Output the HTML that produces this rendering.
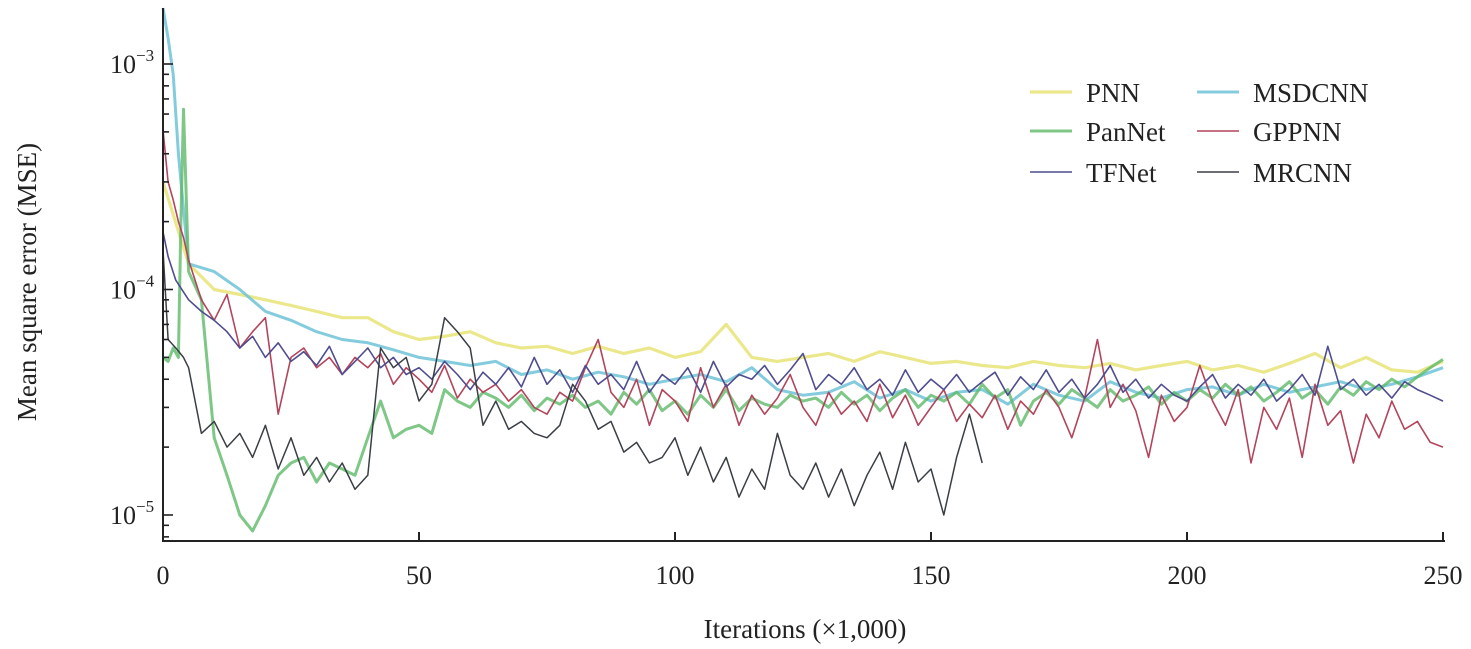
<!DOCTYPE html>
<html><head><meta charset="utf-8"><style>
html,body{margin:0;padding:0;background:#fff;}
svg{display:block;font-family:"Liberation Serif",serif;}
</style></head><body>
<svg id="chart" width="1471" height="649" viewBox="0 0 1471 649" xmlns="http://www.w3.org/2000/svg">
<g id="series"></g>
<g id="axes"></g>
<g id="legend"></g>
<text x="0" y="0" transform="translate(36,282) rotate(-90)" text-anchor="middle" font-size="27" fill="#222">Mean square error (MSE)</text>
<text x="805" y="638" text-anchor="middle" font-size="27" fill="#222">Iterations (×1,000)</text>
</svg>
<script>
// values are MSE in units of 1e-5
const xTicks = [0, 50, 100, 150, 200, 250];
const yDecades = [-5, -4, -3];
const seriesNames = ["PNN", "PanNet", "TFNet", "MSDCNN", "GPPNN", "MRCNN"];
const grid = Array.from({length:101},(_,i)=>i*2.5);
const grid5 = Array.from({length:51},(_,i)=>i*5);

const pnnX = grid5;
const pnnY = [30,13,10,9.5,9,8.5,8,7.5,7.5,6.5,6,6.2,6.5,5.8,5.5,5.6,5.2,5.6,5.2,5.5,5,5.3,7,5,4.8,5,5.2,4.8,5.3,5,4.7,4.8,4.6,4.5,4.8,4.6,4.5,4.7,4.4,4.6,4.8,4.4,4.6,4.3,4.7,5.2,4.5,5,4.4,4.3,4.8];

const msdX = [0,1,2,3,5].concat(grid5.slice(2));
const msdY = [180,130,90,40,13,12,10,8,7.3,6.5,6,5.8,5.4,5,4.8,4.6,4.8,4.2,4.4,4,4.3,4.1,3.8,4,4.2,3.9,4.5,3.6,3.4,3.5,3.9,3.3,3.6,3.2,3.5,3.6,3.1,3.8,3.4,3.2,3.9,3.5,3.3,3.6,3.7,3.4,3.8,3.5,3.7,3.9,3.6,3.8,4.1,4.5];

const panX = [0,1,2,3,3.5,4,5].concat(grid.slice(3));
const panY = [5,4.8,5.5,5,20,63,12,9,2.2,1.5,1.0,0.85,1.1,1.5,1.7,1.8,1.4,1.7,1.6,1.5,2.2,3.2,2.2,2.4,2.5,2.3,3.6,3.2,3,3.5,3.3,3,3.4,2.9,3.3,3.1,3.4,3,3.2,2.8,3.5,3.1,3.6,2.9,3.2,2.8,3.4,3,3.6,2.9,3.3,3.1,3,3.4,3.2,3.3,3,3.5,3.1,3.4,2.9,3.3,3.6,3,3.4,3.2,3.5,3.1,3.8,3.3,3.6,2.5,3.2,3.5,3.1,3.6,3.3,3,3.6,3.2,3.4,3.7,3.1,3.5,3.2,3.6,3.3,3.8,3.4,3.7,3.2,3.5,3.9,3.3,3.6,3.1,3.7,3.4,3.9,3.6,4,3.7,4.1,4.5,4.9];

const tfX = [0,1,2.5,5].concat(grid.slice(3));
const tfY = [18,14,11,9,8,7.3,6.5,5.5,6.2,5,5.8,4.8,5.3,4.6,5.6,4.2,4.8,5.5,4.5,5,4.2,4.5,4,4.8,4.2,3.6,4.3,3.8,4.5,3.7,5,3.8,4.4,3.5,4.6,3.8,4.2,3.6,4.8,3.5,4.2,3.8,4.5,3.5,4.8,3.7,4.2,4,4.6,3.8,4.4,5.2,3.6,4.2,3.8,4.5,3.6,4,3.4,4.4,3.5,4,3.6,4.2,3.5,3.9,4.3,3.4,4.1,3.6,4.4,3.5,4,3.3,3.8,4.6,3.5,4,3.3,3.8,3.4,3.2,3.7,4.2,3.3,3.8,3.4,4,3.2,3.6,4.2,3.4,5.6,3.6,4,3.4,3.8,3.3,3.9,3.6,3.4,3.2];

const gpX = [0,1,2,3,4,5].concat(grid.slice(3));
const gpY = [51,30,25,20,17,13.5,9,7.3,9.5,5.5,6.5,7.5,2.8,5,5.5,4.5,5,4.2,5,4.5,5.2,3.8,4.5,4,3.5,4.6,3.3,4,3.5,3.8,3.2,3.6,3,2.8,3.5,3.2,4.5,6,3.5,3,4,2.5,3.6,3.2,2.6,4.5,3,3.8,2.5,3.4,2.8,3.3,4.2,3,2.5,3.5,2.8,3.2,2.6,3.8,2.7,3.4,2.5,3,3.6,2.6,3.1,2.7,3.4,2.4,3.2,2.8,3.6,3,2.2,3.3,6,3,3.8,2.9,1.8,3.4,2.6,3,4.6,3.2,2.5,3.6,1.7,3,2.4,3.3,1.8,3.8,2.5,2.9,1.7,2.8,2.2,3.2,2.4,2.6,2.1,2];

const mrX = [0,1,2.5,4,5].concat(grid.slice(3,65));
const mrY = [15,6,5.5,5,4.5,2.3,2.6,2,2.3,1.8,2.5,1.6,2.2,1.5,1.8,1.4,1.7,1.3,1.5,5.5,4.5,5,3.2,3.8,7.5,6.5,5.5,2.5,3.2,2.4,2.6,2.3,2.2,2.5,3.8,3.2,2.4,2.6,1.9,2.1,1.7,1.8,2.2,1.5,2,1.4,1.8,1.2,1.6,1.3,2.3,1.5,1.3,1.7,1.2,1.6,1.1,1.5,1.9,1.3,2.1,1.4,1.6,1.0,1.8,2.8,1.7];

const NS='http://www.w3.org/2000/svg';
const X0=163, X1=1443, YB=541, YT=8;
function xs(v){return X0+(v/250)*(X1-X0);}
function ys(v){return 515-225.5*Math.log10(v);}   // v in 1e-5
function ysExp(e){return ys(Math.pow(10,e+5));}

const styles = {
 PNN:{c:"rgba(232,228,120,0.85)",w:3.2},
 PanNet:{c:"rgba(95,185,105,0.8)",w:3},
 TFNet:{c:"#4f4d8e",w:1.6},
 MSDCNN:{c:"rgba(110,195,215,0.85)",w:3},
 GPPNN:{c:"#b2455c",w:1.6},
 MRCNN:{c:"#3a3f45",w:1.5}
};
const data = {PNN:[pnnX,pnnY],MSDCNN:[msdX,msdY],PanNet:[panX,panY],TFNet:[tfX,tfY],GPPNN:[gpX,gpY],MRCNN:[mrX,mrY]};
const order=["PNN","MSDCNN","PanNet","GPPNN","TFNet","MRCNN"];
const sg=document.getElementById('series');
order.forEach(n=>{
  const [X,Y]=data[n]; const m=Math.min(X.length,Y.length);
  let d='';
  for(let i=0;i<m;i++){d+=(i?'L':'M')+xs(X[i]).toFixed(1)+','+Math.max(YT,ys(Y[i])).toFixed(1);}
  const p=document.createElementNS(NS,'path');
  p.setAttribute('d',d);p.setAttribute('fill','none');
  p.setAttribute('stroke',styles[n].c);p.setAttribute('stroke-width',styles[n].w);
  p.setAttribute('stroke-linejoin','round');
  
  
  sg.appendChild(p);
});

const ax=document.getElementById('axes');
function line(x1,y1,x2,y2,w,name){const l=document.createElementNS(NS,'line');
 l.setAttribute('x1',x1);l.setAttribute('y1',y1);l.setAttribute('x2',x2);l.setAttribute('y2',y2);
 l.setAttribute('stroke','#222');l.setAttribute('stroke-width',w);
 
 
 ax.appendChild(l);}
line(X0,YT,X0,YB,2,'y-axis-line');
line(X0-1,YB,X1+2,YB,2,'x-axis-line');
xTicks.forEach(t=>{
  line(xs(t),YB,xs(t),YB-9,2,'x-tick');
  const tx=document.createElementNS(NS,'text');
  tx.setAttribute('x',xs(t));tx.setAttribute('y',584);tx.setAttribute('text-anchor','middle');
  tx.setAttribute('font-size','26');tx.setAttribute('fill','#222');tx.textContent=t;
  
  
  ax.appendChild(tx);
});
for(let e=-6;e<=-3;e++){
  for(let k=1;k<10;k++){
    const y=ysExp(e)-225.5*Math.log10(k);
    if(y<YT||y>YB) continue;
    line(X0,y,X0+(k===1?10:6),y,1.6,k===1?'y-major-tick':'y-minor-tick');
  }
}
yDecades.forEach(e=>{
  const y=ysExp(e);
  const tx=document.createElementNS(NS,'text');
  tx.setAttribute('x',110);tx.setAttribute('y',y+9);tx.setAttribute('font-size','26');tx.setAttribute('fill','#222');
  tx.innerHTML='10<tspan dy="-12" font-size="17">−'+(-e)+'</tspan>';
  
  
  ax.appendChild(tx);
});

const lg=document.getElementById('legend');
const legPos={PNN:[1030,92],PanNet:[1030,131],TFNet:[1030,172],MSDCNN:[1197,92],GPPNN:[1197,131],MRCNN:[1197,172]};
seriesNames.forEach(n=>{
  const [x,y]=legPos[n];
  const g=document.createElementNS(NS,'g');
  
  
  const l=document.createElementNS(NS,'line');
  l.setAttribute('x1',x);l.setAttribute('x2',x+42);l.setAttribute('y1',y);l.setAttribute('y2',y);
  l.setAttribute('stroke',styles[n].c);l.setAttribute('stroke-width',styles[n].w);
  g.appendChild(l);
  const t=document.createElementNS(NS,'text');
  t.setAttribute('x',x+56);t.setAttribute('y',y+10);t.setAttribute('font-size','27');t.setAttribute('fill','#222');
  t.textContent=n;g.appendChild(t);
  lg.appendChild(g);
});
</script>
</body></html>
